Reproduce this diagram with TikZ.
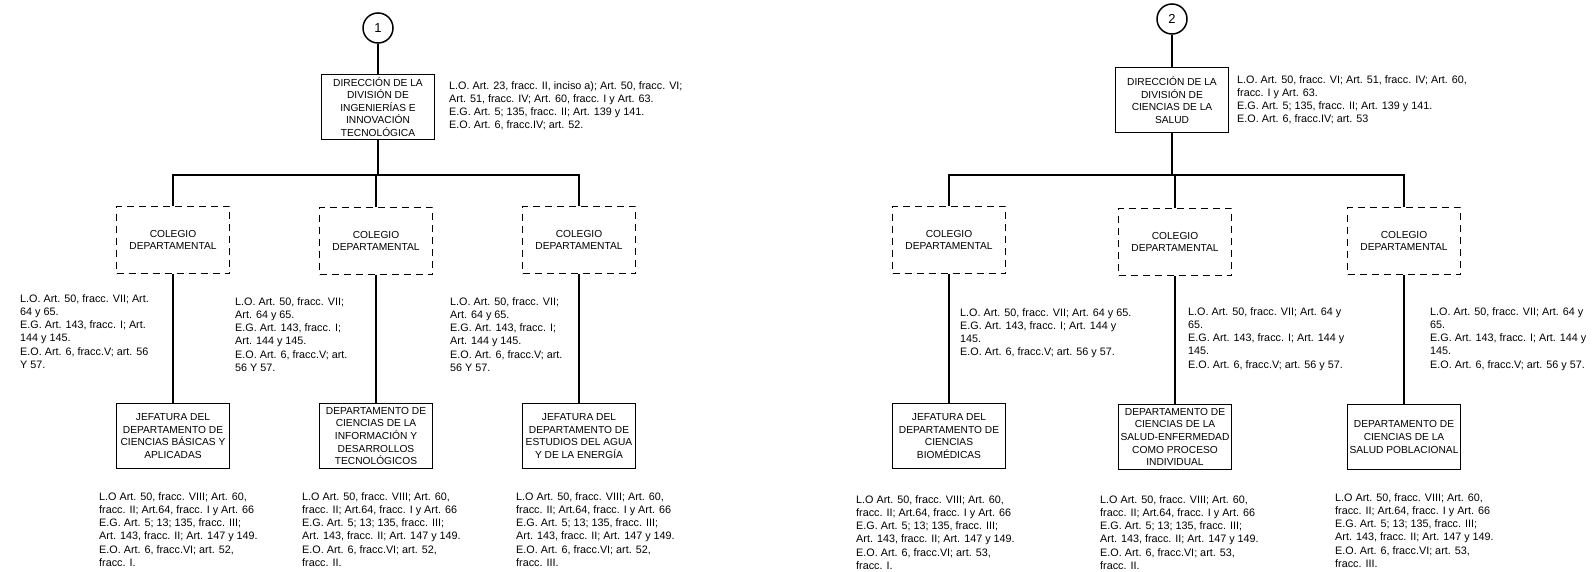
\documentclass[tikz,border=0pt]{standalone}
\usepackage{fontspec}
\setmainfont{Liberation Sans}
\usepackage{tikz}

\newcommand{\textocaja}{\fontsize{10.2}{12.6}\selectfont}
\newcommand{\textonota}{\fontsize{10.8}{13.3}\selectfont}

\tikzset{
    unidad/.style={draw, line width=1.9pt, align=center, minimum width=113pt, minimum height=65pt, inner sep=0pt, font=\textocaja},
    colegio/.style={unidad, dash pattern=on 7pt off 5pt, minimum height=67pt},
    nota/.style={anchor=north west, align=left, inner sep=0pt, font=\textonota},
    numero/.style={draw, circle, line width=1.5pt, minimum size=30pt, inner sep=0pt, font=\fontsize{13}{15}\selectfont},
    enlace/.style={line width=1.9pt}
}

\begin{document}
\begin{tikzpicture}[x=1pt, y=-1pt]
    \useasboundingbox (0,0) rectangle (1592,572);

    % Division 1: Ingenierias e Innovacion Tecnologica
    \node[numero] (c1) at (378,28) {1};
    \node[unidad] (d1) at (378,107) {DIRECCIÓN DE LA\\DIVISIÓN DE\\INGENIERÍAS E\\INNOVACIÓN\\TECNOLÓGICA};
    \node[nota] (n1) at (449,81) {L.O. Art. 23, fracc. II, inciso a); Art. 50, fracc. VI;\\Art. 51, fracc. IV; Art. 60, fracc. I y Art. 63.\\E.G. Art. 5; 135, fracc. II; Art. 139 y 141.\\E.O. Art. 6, fracc.IV; art. 52.};
    \coordinate (j1) at (378,175);

    \node[colegio] (colA) at (173,240) {COLEGIO\\DEPARTAMENTAL};
    \node[colegio] (colB) at (376,241) {COLEGIO\\DEPARTAMENTAL};
    \node[colegio] (colC) at (579,240) {COLEGIO\\DEPARTAMENTAL};

    \node[nota] (nA) at (20,294) {L.O. Art. 50, fracc. VII; Art.\\64 y 65.\\E.G. Art. 143, fracc. I; Art.\\144 y 145.\\E.O. Art. 6, fracc.V; art. 56\\Y 57.};
    \node[nota] (nB) at (235,297) {L.O. Art. 50, fracc. VII;\\Art. 64 y 65.\\E.G. Art. 143, fracc. I;\\Art. 144 y 145.\\E.O. Art. 6, fracc.V; art.\\56 Y 57.};
    \node[nota] (nC) at (450,297) {L.O. Art. 50, fracc. VII;\\Art. 64 y 65.\\E.G. Art. 143, fracc. I;\\Art. 144 y 145.\\E.O. Art. 6, fracc.V; art.\\56 Y 57.};

    \node[unidad] (deptA) at (173,436) {JEFATURA DEL\\DEPARTAMENTO DE\\CIENCIAS BÁSICAS Y\\APLICADAS};
    \node[unidad] (deptB) at (376,436) {DEPARTAMENTO DE\\CIENCIAS DE LA\\INFORMACIÓN Y\\DESARROLLOS\\TECNOLÓGICOS};
    \node[unidad] (deptC) at (579,436) {JEFATURA DEL\\DEPARTAMENTO DE\\ESTUDIOS DEL AGUA\\Y DE LA ENERGÍA};

    \node[nota] (mA) at (99,492) {L.O Art. 50, fracc. VIII; Art. 60,\\fracc. II; Art.64, fracc. I y Art. 66\\E.G. Art. 5; 13; 135, fracc. III;\\Art. 143, fracc. II; Art. 147 y 149.\\E.O. Art. 6, fracc.VI; art. 52,\\fracc. I.};
    \node[nota] (mB) at (302,492) {L.O Art. 50, fracc. VIII; Art. 60,\\fracc. II; Art.64, fracc. I y Art. 66\\E.G. Art. 5; 13; 135, fracc. III;\\Art. 143, fracc. II; Art. 147 y 149.\\E.O. Art. 6, fracc.VI; art. 52,\\fracc. II.};
    \node[nota] (mC) at (516,492) {L.O Art. 50, fracc. VIII; Art. 60,\\fracc. II; Art.64, fracc. I y Art. 66\\E.G. Art. 5; 13; 135, fracc. III;\\Art. 143, fracc. II; Art. 147 y 149.\\E.O. Art. 6, fracc.VI; art. 52,\\fracc. III.};

    \draw[enlace] (c1) -- (d1);
    \draw[enlace] (d1) -- (j1);
    \draw[enlace] (colA.north) |- (j1) -| (colC.north);
    \draw[enlace] (j1) -| (colB.north);
    \draw[enlace] (colA) -- (deptA);
    \draw[enlace] (colB) -- (deptB);
    \draw[enlace] (colC) -- (deptC);

    % Division 2: Ciencias de la Salud
    \node[numero] (c2) at (1172,19) {2};
    \node[unidad] (d2) at (1172,100) {DIRECCIÓN DE LA\\DIVISIÓN DE\\CIENCIAS DE LA\\SALUD};
    \node[nota] (n2) at (1237,75) {L.O. Art. 50, fracc. VI; Art. 51, fracc. IV; Art. 60,\\fracc. I y Art. 63.\\E.G. Art. 5; 135, fracc. II; Art. 139 y 141.\\E.O. Art. 6, fracc.IV; art. 53};
    \coordinate (j2) at (1172,175);

    \node[colegio] (colR1) at (949,240) {COLEGIO\\DEPARTAMENTAL};
    \node[colegio] (colR2) at (1175,242) {COLEGIO\\DEPARTAMENTAL};
    \node[colegio] (colR3) at (1404,241) {COLEGIO\\DEPARTAMENTAL};

    \node[nota] (nR1) at (960,308) {L.O. Art. 50, fracc. VII; Art. 64 y 65.\\E.G. Art. 143, fracc. I; Art. 144 y\\145.\\E.O. Art. 6, fracc.V; art. 56 y 57.};
    \node[nota] (nR2) at (1188,307) {L.O. Art. 50, fracc. VII; Art. 64 y\\65.\\E.G. Art. 143, fracc. I; Art. 144 y\\145.\\E.O. Art. 6, fracc.V; art. 56 y 57.};
    \node[nota] (nR3) at (1430,307) {L.O. Art. 50, fracc. VII; Art. 64 y\\65.\\E.G. Art. 143, fracc. I; Art. 144 y\\145.\\E.O. Art. 6, fracc.V; art. 56 y 57.};

    \node[unidad] (deptR1) at (949,436) {JEFATURA DEL\\DEPARTAMENTO DE\\CIENCIAS\\BIOMÉDICAS};
    \node[unidad] (deptR2) at (1175,437) {DEPARTAMENTO DE\\CIENCIAS DE LA\\SALUD-ENFERMEDAD\\COMO PROCESO\\INDIVIDUAL};
    \node[unidad] (deptR3) at (1404,437) {DEPARTAMENTO DE\\CIENCIAS DE LA\\SALUD POBLACIONAL};

    \node[nota] (mR1) at (856,495) {L.O Art. 50, fracc. VIII; Art. 60,\\fracc. II; Art.64, fracc. I y Art. 66\\E.G. Art. 5; 13; 135, fracc. III;\\Art. 143, fracc. II; Art. 147 y 149.\\E.O. Art. 6, fracc.VI; art. 53,\\fracc. I.};
    \node[nota] (mR2) at (1100,495) {L.O Art. 50, fracc. VIII; Art. 60,\\fracc. II; Art.64, fracc. I y Art. 66\\E.G. Art. 5; 13; 135, fracc. III;\\Art. 143, fracc. II; Art. 147 y 149.\\E.O. Art. 6, fracc.VI; art. 53,\\fracc. II.};
    \node[nota] (mR3) at (1335,493) {L.O Art. 50, fracc. VIII; Art. 60,\\fracc. II; Art.64, fracc. I y Art. 66\\E.G. Art. 5; 13; 135, fracc. III;\\Art. 143, fracc. II; Art. 147 y 149.\\E.O. Art. 6, fracc.VI; art. 53,\\fracc. III.};

    \draw[enlace] (c2) -- (d2);
    \draw[enlace] (d2) -- (j2);
    \draw[enlace] (colR1.north) |- (j2) -| (colR3.north);
    \draw[enlace] (j2) -| (colR2.north);
    \draw[enlace] (colR1) -- (deptR1);
    \draw[enlace] (colR2) -- (deptR2);
    \draw[enlace] (colR3) -- (deptR3);
\end{tikzpicture}
\end{document}
